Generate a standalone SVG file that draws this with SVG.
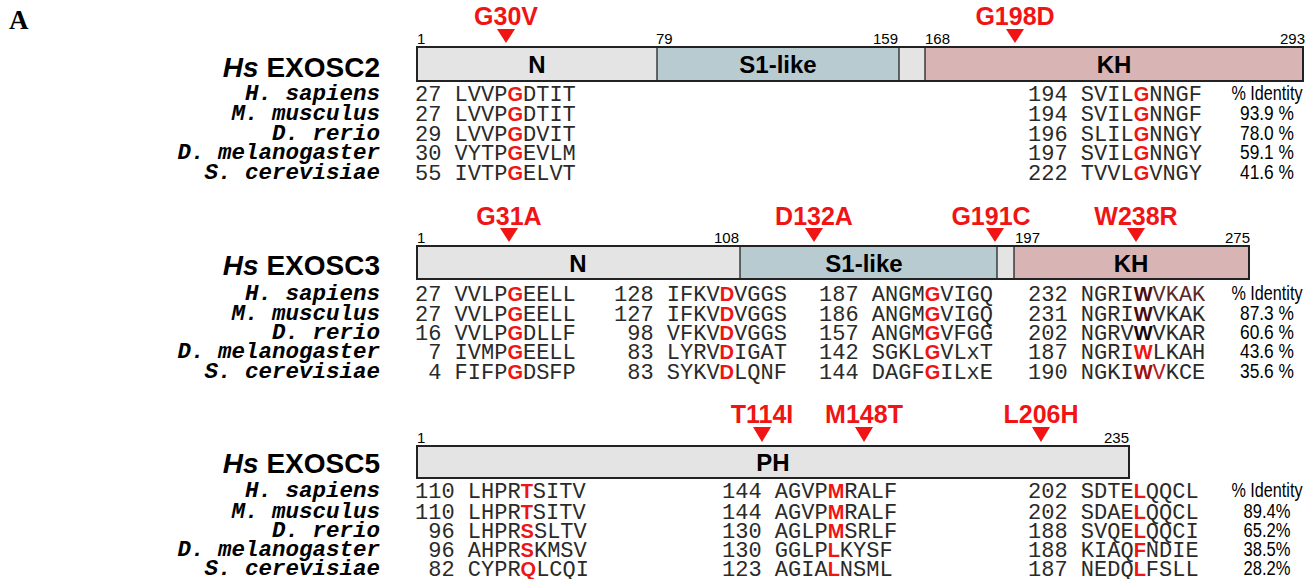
<svg xmlns="http://www.w3.org/2000/svg" width="1312" height="579" viewBox="0 0 1312 579">
<style>
.panel{font-family:"Liberation Serif",serif;font-weight:bold;font-size:27px;fill:#000}
.title{font-family:"Liberation Sans",Arial,sans-serif;font-weight:bold;font-size:28px;fill:#000}
.sp{font-family:"Liberation Mono","Courier New",monospace;font-weight:bold;font-style:italic;font-size:22.5px;fill:#000}
.seq{font-family:"Liberation Mono","Courier New",monospace;font-size:22px;fill:#2a2a2a}
.r{font-family:"Liberation Sans",Arial,sans-serif;font-weight:bold;font-size:20px;fill:#f01414}
.mut{font-family:"Liberation Sans",Arial,sans-serif;font-weight:bold;font-size:25px;fill:#f01414}
.tri{fill:#f01414}
.pos{font-family:"Liberation Sans",Arial,sans-serif;font-size:15px;fill:#000}
.dom{font-family:"Liberation Sans",Arial,sans-serif;font-weight:bold;font-size:24px;fill:#000}
.pid{font-family:"Liberation Sans",Arial,sans-serif;font-size:20px;fill:#000}
.gray{fill:#e4e4e4}
.blue{fill:#b8cbd0}
.pink{fill:#d9b4b5}
.outline{fill:none;stroke:#222;stroke-width:2}
.div{stroke:#222;stroke-width:1.3}
</style>
<rect width="1312" height="579" fill="#fff"/>
<text class="panel" x="9" y="29">A</text>

<g id="exosc2">
  <text class="mut" x="506" y="25" text-anchor="middle">G30V</text>
  <polygon class="tri" points="497,29 515,29 506,43"/>
  <text class="mut" x="1015" y="25" text-anchor="middle">G198D</text>
  <polygon class="tri" points="1006,29 1024,29 1015,43"/>
  <text class="pos" x="417" y="44">1</text>
  <text class="pos" x="656" y="44">79</text>
  <text class="pos" x="898" y="44" text-anchor="end">159</text>
  <text class="pos" x="925" y="44">168</text>
  <text class="pos" x="1305" y="44" text-anchor="end">293</text>
  <rect class="gray" x="417" y="47" width="240" height="34"/>
  <rect class="blue" x="657" y="47" width="242" height="34"/>
  <rect class="gray" x="899" y="47" width="26" height="34"/>
  <rect class="pink" x="925" y="47" width="378" height="34"/>
  <line class="div" x1="657" y1="47" x2="657" y2="81"/>
  <line class="div" x1="899" y1="47" x2="899" y2="81"/>
  <line class="div" x1="925" y1="47" x2="925" y2="81"/>
  <rect class="outline" x="417" y="47" width="886" height="34"/>
  <text class="dom" x="537" y="73" text-anchor="middle">N</text>
  <text class="dom" x="778" y="73" text-anchor="middle">S1-like</text>
  <text class="dom" x="1114" y="73" text-anchor="middle">KH</text>
  <text class="title" x="380" y="77" text-anchor="end"><tspan font-style="italic">Hs</tspan> EXOSC2</text>
  <text class="sp" x="380" y="100" text-anchor="end">H. sapiens</text>
  <text class="sp" x="380" y="120" text-anchor="end">M. musculus</text>
  <text class="sp" x="380" y="140" text-anchor="end">D. rerio</text>
  <text class="sp" x="380" y="159" text-anchor="end">D. melanogaster</text>
  <text class="sp" x="380" y="179" text-anchor="end">S. cerevisiae</text>
  <text class="seq" x="415" y="101">27 LVVP<tspan class="r">G</tspan>DTIT</text>
  <text class="seq" x="415" y="121">27 LVVP<tspan class="r">G</tspan>DTIT</text>
  <text class="seq" x="415" y="141">29 LVVP<tspan class="r">G</tspan>DVIT</text>
  <text class="seq" x="415" y="160">30 VYTP<tspan class="r">G</tspan>EVLM</text>
  <text class="seq" x="415" y="180">55 IVTP<tspan class="r">G</tspan>ELVT</text>
  <text class="seq" x="1028" y="101">194 SVIL<tspan class="r">G</tspan>NNGF</text>
  <text class="seq" x="1028" y="121">194 SVIL<tspan class="r">G</tspan>NNGF</text>
  <text class="seq" x="1028" y="141">196 SLIL<tspan class="r">G</tspan>NNGY</text>
  <text class="seq" x="1028" y="160">197 SVIL<tspan class="r">G</tspan>NNGY</text>
  <text class="seq" x="1028" y="180">222 TVVL<tspan class="r">G</tspan>VNGY</text>
  <text class="pid" x="1267" y="100" text-anchor="middle" textLength="71" lengthAdjust="spacingAndGlyphs">% Identity</text>
  <text class="pid" x="1267" y="120" text-anchor="middle" textLength="54" lengthAdjust="spacingAndGlyphs">93.9 %</text>
  <text class="pid" x="1267" y="140" text-anchor="middle" textLength="54" lengthAdjust="spacingAndGlyphs">78.0 %</text>
  <text class="pid" x="1267" y="159" text-anchor="middle" textLength="54" lengthAdjust="spacingAndGlyphs">59.1 %</text>
  <text class="pid" x="1267" y="179" text-anchor="middle" textLength="54" lengthAdjust="spacingAndGlyphs">41.6 %</text>
</g>

<g id="exosc3">
  <text class="mut" x="509" y="225" text-anchor="middle">G31A</text>
  <polygon class="tri" points="500,228 518,228 509,242"/>
  <text class="mut" x="814" y="225" text-anchor="middle">D132A</text>
  <polygon class="tri" points="805,228 823,228 814,242"/>
  <text class="mut" x="991" y="225" text-anchor="middle">G191C</text>
  <polygon class="tri" points="986,228 1004,228 995,242"/>
  <text class="mut" x="1136" y="225" text-anchor="middle">W238R</text>
  <polygon class="tri" points="1127,228 1145,228 1136,242"/>
  <text class="pos" x="417" y="243">1</text>
  <text class="pos" x="739" y="243" text-anchor="end">108</text>
  <text class="pos" x="1015" y="243">197</text>
  <text class="pos" x="1250" y="243" text-anchor="end">275</text>
  <rect class="gray" x="417" y="246" width="323" height="33"/>
  <rect class="blue" x="740" y="246" width="257" height="33"/>
  <rect class="gray" x="997" y="246" width="17" height="33"/>
  <rect class="pink" x="1014" y="246" width="235" height="33"/>
  <line class="div" x1="740" y1="246" x2="740" y2="279"/>
  <line class="div" x1="997" y1="246" x2="997" y2="279"/>
  <line class="div" x1="1014" y1="246" x2="1014" y2="279"/>
  <rect class="outline" x="417" y="246" width="832" height="33"/>
  <text class="dom" x="578" y="272" text-anchor="middle">N</text>
  <text class="dom" x="864" y="272" text-anchor="middle">S1-like</text>
  <text class="dom" x="1131" y="272" text-anchor="middle">KH</text>
  <text class="title" x="380" y="275" text-anchor="end"><tspan font-style="italic">Hs</tspan> EXOSC3</text>
  <text class="sp" x="380" y="300" text-anchor="end">H. sapiens</text>
  <text class="sp" x="380" y="320" text-anchor="end">M. musculus</text>
  <text class="sp" x="380" y="339" text-anchor="end">D. rerio</text>
  <text class="sp" x="380" y="358" text-anchor="end">D. melanogaster</text>
  <text class="sp" x="380" y="378" text-anchor="end">S. cerevisiae</text>
  <text class="seq" x="415" y="301">27 VVLP<tspan class="r">G</tspan>EELL</text>
  <text class="seq" x="415" y="321">27 VVLP<tspan class="r">G</tspan>EELL</text>
  <text class="seq" x="415" y="340">16 VVLP<tspan class="r">G</tspan>DLLF</text>
  <text class="seq" x="428.2" y="359">7 IVMP<tspan class="r">G</tspan>EELL</text>
  <text class="seq" x="428.2" y="379">4 FIFP<tspan class="r">G</tspan>DSFP</text>
  <text class="seq" x="614" y="301">128 IFKV<tspan class="r">D</tspan>VGGS</text>
  <text class="seq" x="614" y="321">127 IFKV<tspan class="r">D</tspan>VGGS</text>
  <text class="seq" x="627.2" y="340">98 VFKV<tspan class="r">D</tspan>VGGS</text>
  <text class="seq" x="627.2" y="359">83 LYRV<tspan class="r">D</tspan>IGAT</text>
  <text class="seq" x="627.2" y="379">83 SYKV<tspan class="r">D</tspan>LQNF</text>
  <text class="seq" x="819" y="301">187 ANGM<tspan class="r">G</tspan>VIGQ</text>
  <text class="seq" x="819" y="321">186 ANGM<tspan class="r">G</tspan>VIGQ</text>
  <text class="seq" x="819" y="340">157 ANGM<tspan class="r">G</tspan>VFGG</text>
  <text class="seq" x="819" y="359">142 SGKL<tspan class="r">G</tspan>VLxT</text>
  <text class="seq" x="819" y="379">144 DAGF<tspan class="r">G</tspan>ILxE</text>
  <text class="seq" x="1028" y="301">232 NGRI<tspan class="r" style="fill:#4a0c0c">W</tspan><tspan style="fill:#5a2a2a">VKAK</tspan></text>
  <text class="seq" x="1028" y="321">231 NGRI<tspan class="r" style="fill:#4a0c0c">W</tspan>VKAK</text>
  <text class="seq" x="1028" y="340">202 NGRV<tspan class="r" style="fill:#1a0505">W</tspan>VKAR</text>
  <text class="seq" x="1028" y="359">187 NGRI<tspan class="r">W</tspan>LKAH</text>
  <text class="seq" x="1028" y="379">190 NGKI<tspan class="r" style="fill:#a01010">W</tspan><tspan style="fill:#b02020">V</tspan>KCE</text>
  <text class="pid" x="1267" y="300" text-anchor="middle" textLength="71" lengthAdjust="spacingAndGlyphs">% Identity</text>
  <text class="pid" x="1267" y="320" text-anchor="middle" textLength="54" lengthAdjust="spacingAndGlyphs">87.3 %</text>
  <text class="pid" x="1267" y="339" text-anchor="middle" textLength="54" lengthAdjust="spacingAndGlyphs">60.6 %</text>
  <text class="pid" x="1267" y="358" text-anchor="middle" textLength="54" lengthAdjust="spacingAndGlyphs">43.6 %</text>
  <text class="pid" x="1267" y="378" text-anchor="middle" textLength="54" lengthAdjust="spacingAndGlyphs">35.6 %</text>
</g>

<g id="exosc5">
  <text class="mut" x="762" y="423" text-anchor="middle">T114I</text>
  <polygon class="tri" points="753,427 771,427 762,442"/>
  <text class="mut" x="864" y="423" text-anchor="middle">M148T</text>
  <polygon class="tri" points="855,427 873,427 864,442"/>
  <text class="mut" x="1041" y="423" text-anchor="middle">L206H</text>
  <polygon class="tri" points="1032,427 1050,427 1041,442"/>
  <text class="pos" x="417" y="443">1</text>
  <text class="pos" x="1129" y="443" text-anchor="end">235</text>
  <rect class="gray" x="417" y="446" width="712" height="32"/>
  <rect class="outline" x="417" y="446" width="712" height="32"/>
  <text class="dom" x="773" y="471" text-anchor="middle">PH</text>
  <text class="title" x="380" y="473" text-anchor="end"><tspan font-style="italic">Hs</tspan> EXOSC5</text>
  <text class="sp" x="380" y="497" text-anchor="end">H. sapiens</text>
  <text class="sp" x="380" y="518" text-anchor="end">M. musculus</text>
  <text class="sp" x="380" y="537" text-anchor="end">D. rerio</text>
  <text class="sp" x="380" y="556" text-anchor="end">D. melanogaster</text>
  <text class="sp" x="380" y="575" text-anchor="end">S. cerevisiae</text>
  <text class="seq" x="415" y="498">110 LHPR<tspan class="r">T</tspan>SITV</text>
  <text class="seq" x="415" y="519">110 LHPR<tspan class="r">T</tspan>SITV</text>
  <text class="seq" x="428.2" y="538">96 LHPR<tspan class="r">S</tspan>SLTV</text>
  <text class="seq" x="428.2" y="557">96 AHPR<tspan class="r">S</tspan>KMSV</text>
  <text class="seq" x="428.2" y="576">82 CYPR<tspan class="r">Q</tspan>LCQI</text>
  <text class="seq" x="722" y="498">144 AGVP<tspan class="r">M</tspan>RALF</text>
  <text class="seq" x="722" y="519">144 AGVP<tspan class="r">M</tspan>RALF</text>
  <text class="seq" x="722" y="538">130 AGLP<tspan class="r">M</tspan>SRLF</text>
  <text class="seq" x="722" y="557">130 GGLP<tspan class="r">L</tspan>KYSF</text>
  <text class="seq" x="722" y="576">123 AGIA<tspan class="r">L</tspan>NSML</text>
  <text class="seq" x="1028" y="498">202 SDTE<tspan class="r">L</tspan>QQCL</text>
  <text class="seq" x="1028" y="519">202 SDAE<tspan class="r">L</tspan>QQCL</text>
  <text class="seq" x="1028" y="538">188 SVQE<tspan class="r">L</tspan>QQCI</text>
  <text class="seq" x="1028" y="557">188 KIAQ<tspan class="r">F</tspan>NDIE</text>
  <text class="seq" x="1028" y="576">187 NEDQ<tspan class="r">L</tspan>FSLL</text>
  <text class="pid" x="1267" y="497" text-anchor="middle" textLength="71" lengthAdjust="spacingAndGlyphs">% Identity</text>
  <text class="pid" x="1267" y="518" text-anchor="middle" textLength="47" lengthAdjust="spacingAndGlyphs">89.4%</text>
  <text class="pid" x="1267" y="537" text-anchor="middle" textLength="47" lengthAdjust="spacingAndGlyphs">65.2%</text>
  <text class="pid" x="1267" y="556" text-anchor="middle" textLength="47" lengthAdjust="spacingAndGlyphs">38.5%</text>
  <text class="pid" x="1267" y="575" text-anchor="middle" textLength="47" lengthAdjust="spacingAndGlyphs">28.2%</text>
</g>
</svg>
